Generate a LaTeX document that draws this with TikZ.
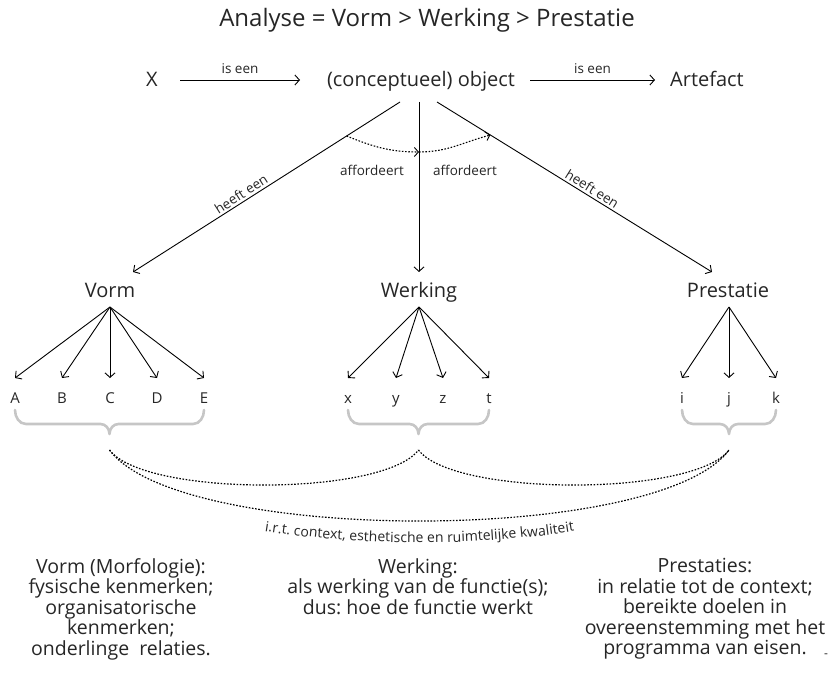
\documentclass[tikz,border=0pt]{standalone}
\usepackage{fontspec}
\setmainfont{Open Sans}
\usetikzlibrary{arrows.meta,calc,decorations.text}
\definecolor{txt}{HTML}{262626}
\definecolor{brc}{HTML}{C6C6C6}
\newcommand{\ubrace}[3]{\draw[bracestyle] (#1,-410) to[out=-90,in=180] ({#1+11},-424) -- ({#3-9},-424) to[out=0,in=90] (#3,-434) to[out=90,in=180] ({#3+9},-424) -- ({#2-11},-424) to[out=0,in=-90] (#2,-410);}
\frenchspacing
\begin{document}
\begin{tikzpicture}[x=1pt,y=1pt,
  lbl/.style={text=txt, inner sep=0pt, anchor=base},
  big/.style={lbl, font=\fontsize{20}{24}\selectfont},
  let/.style={lbl, font=\fontsize{15}{18}\selectfont},
  small/.style={text=txt, font=\fontsize{13.5}{16}\selectfont, inner sep=2pt},
  arr/.style={line width=0.9pt, -{Straight Barb[length=4.5pt,width=10pt]}},
  darr/.style={line width=1.1pt, dash pattern=on 1.6pt off 1.6pt, -{Straight Barb[length=4pt,width=9pt,line width=0.9pt]}},
  dcurve/.style={line width=1.2pt, dash pattern=on 1.6pt off 1.6pt},
  bracestyle/.style={draw=brc, line width=2.6pt, line cap=round, line join=round},
  desc/.style={text=txt, align=center, font=\fontsize{19.5}{20.5}\selectfont, inner sep=0pt, anchor=north}
]
\useasboundingbox (0,0) rectangle (833,-682);

\node[lbl, font=\fontsize{24}{27}\selectfont] (title) at (427,-27) {Analyse = Vorm > Werking > Prestatie};

% top row
\node[big] (X) at (152,-87) {X};
\node[big] (obj) at (421,-87) {(conceptueel) object};
\node[big] (art) at (707,-87) {Artefact};
\draw[arr] ($(X.base)+(28,7)$) -- node[small, above=3.5pt] (ie1) {is een} ($(obj.base)+(-121,7)$);
\draw[arr] ($(obj.base)+(109,7)$) -- node[small, above=3.5pt] (ie2) {is een} ($(art.base)+(-52,7)$);

% level 2
\node[big] (vorm) at (110,-297) {Vorm};
\node[big] (werk) at (419,-297) {Werking};
\node[big] (prest) at (728,-297) {Prestatie};

\draw[arr] ($(obj.base)+(-21,-15)$) -- node[small, sloped, above, pos=0.58] (he1) {heeft een} coordinate[pos=0.2] (dl) ($(vorm.base)+(23,25)$);
\draw[arr] ($(obj.base)+(-2,-15)$) -- coordinate[pos=0.294] (dm) ($(werk.base)+(0,25)$);
\draw[arr] ($(obj.base)+(16,-15)$) -- node[small, sloped, above, pos=0.55] (he2) {heeft een} coordinate[pos=0.194] (dr) ($(prest.base)+(-16,25)$);

\draw[darr] (dl) to[out=-22,in=180] (dm);
\draw[darr] (dm) to[out=0,in=195] (dr);
\node[small] (aff1) at (372,-170) {affordeert};
\node[small] (aff2) at (465,-170) {affordeert};

% level 3
\foreach \n/\x in {A/15, B/62, C/110, D/157, E/204} {
  \node[let] (v\n) at (\x,-403) {\n};
  \draw[arr] ($(vorm.base)+(0,-10)$) -- ($(v\n.base)+(0,25)$);
}
\foreach \n/\x in {x/348, y/396, z/443, t/489} {
  \node[let] (w\n) at (\x,-403) {\n};
  \draw[arr] ($(werk.base)+(0,-10)$) -- ($(w\n.base)+(0,25)$);
}
\foreach \n/\x in {i/682, j/729, k/776} {
  \node[let] (p\n) at (\x,-403) {\n};
  \draw[arr] ($(prest.base)+(1,-10)$) -- ($(p\n.base)+(0,25)$);
}

% braces
\ubrace{15}{204}{109.5}
\ubrace{348}{489}{418.5}
\ubrace{682}{776}{729}

\coordinate (bv) at (109.5,-450);
\coordinate (bw) at (418.5,-450);
\coordinate (bp) at (729,-450);
\draw[dcurve] (bv) .. controls +(35,-46.7) and +(-35,-46.7) .. (bw);
\draw[dcurve] (bw) .. controls +(35,-46.7) and +(-35,-46.7) .. (bp);
\draw[dcurve] (bv) .. controls +(70,-94.7) and +(-70,-94.7) .. (bp);
{\fontsize{14}{16}\selectfont
\path[decorate, decoration={text along path, text align=center, text color=txt, text={i.r.t. context, esthetische en ruimtelijke kwaliteit}}] ($(bv)+(0,-16)$) .. controls +(62,-102) and +(-62,-102) .. ($(bp)+(0,-16)$);
}

% descriptions
\node[desc] (d1) at (121,-558) {Vorm (Morfologie):\\fysische kenmerken;\\organisatorische\\kenmerken;\\onderlinge\ \ relaties.};
\node[desc] (d2) at (418,-558) {Werking:\\als werking van de functie(s);\\dus: hoe de functie werkt};
\node[desc] (d3) at (705,-558) {Prestaties:\\in relatie tot de context;\\bereikte doelen in\\overeenstemming met het\\programma van eisen.};
\node[text=txt, font=\fontsize{12}{14}\selectfont, inner sep=0pt] (dash) at (826,-656) {-};
\end{tikzpicture}
\end{document}
